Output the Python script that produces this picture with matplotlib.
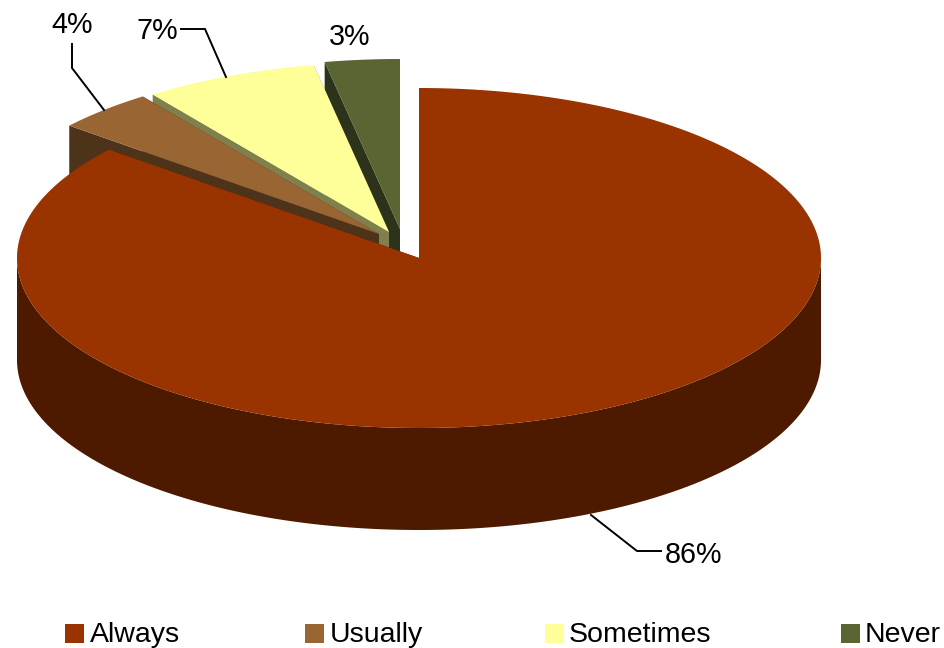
import numpy as np
import matplotlib
matplotlib.use('Agg')
import matplotlib.pyplot as plt
from matplotlib.patches import Polygon, Rectangle

plt.rcParams['font.family'] = ['Liberation Sans', 'DejaVu Sans']

names = ['Always', 'Usually', 'Sometimes', 'Never']
values = [86, 4, 7, 3]
top_colors = ['#993300', '#996633', '#FFFF99', '#596633']
wall_colors = ['#4D1A00', '#4D331A', '#80804D', '#2D331A']

# pie layout in pixels
rx = 402
ry = 170
depth = 102
apex = [(419, 258), (379, 234), (389, 232), (400, 229)]

label_pos = [(665, 563), (51, 33), (136, 39), (329, 45)]
leaders = [
    [(591, 515), (637, 551), (661, 551)],
    [(72, 44), (72, 68), (104, 110)],
    [(181, 29), (205, 29), (226, 77)],
    None,
]
legend_box_x = [65, 305, 545, 841]
legend_text_x = [90, 330, 569, 865]


def rim(center, t0, t1):
    t = np.radians(np.linspace(t0, t1, max(int(t1 - t0) * 2, 2) + 1))
    return np.column_stack([center[0] + rx * np.sin(t), center[1] - ry * np.cos(t)])


def draw_slice(ax, center, t0, t1, top, wall):
    edge = rim(center, t0, t1)
    drop = np.array([0, depth])
    c = np.array(center, dtype=float)
    # only the front half of the rim shows an outer wall
    f0, f1 = max(t0, 90), min(t1, 270)
    if f1 > f0:
        front = rim(center, f0, f1)
        ax.add_patch(Polygon(np.vstack([front, (front + drop)[::-1]]), closed=True, fc=wall, ec='none'))
    for p in (edge[0], edge[-1]):
        ax.add_patch(Polygon([c, p, p + drop, c + drop], closed=True, fc=wall, ec='none'))
    ax.add_patch(Polygon(np.vstack([c, edge]), closed=True, fc=top, ec='none'))


fig = plt.figure(figsize=(9.44, 6.48), dpi=100)
ax = fig.add_axes([0, 0, 1, 1])
ax.set_xlim(0, 944)
ax.set_ylim(648, 0)
ax.axis('off')

edges = np.cumsum([0] + values) * 360.0 / sum(values)

# back slices first so the big one ends up in front
for i in [3, 2, 1, 0]:
    draw_slice(ax, apex[i], edges[i], edges[i + 1], top_colors[i], wall_colors[i])

for i in range(len(values)):
    ax.text(label_pos[i][0], label_pos[i][1], '%d%%' % values[i], fontsize=20.7,
            color='black', ha='left', va='baseline')
    if leaders[i] is not None:
        xs, ys = zip(*leaders[i])
        ax.plot(xs, ys, color='black', lw=1.4, solid_joinstyle='miter')

for i in range(len(names)):
    ax.add_patch(Rectangle((legend_box_x[i], 624), 19, 19, fc=top_colors[i], ec='none'))
    ax.text(legend_text_x[i], 642, names[i], fontsize=20.5, color='black', ha='left', va='baseline')

fig.savefig('out.png', dpi=100)
